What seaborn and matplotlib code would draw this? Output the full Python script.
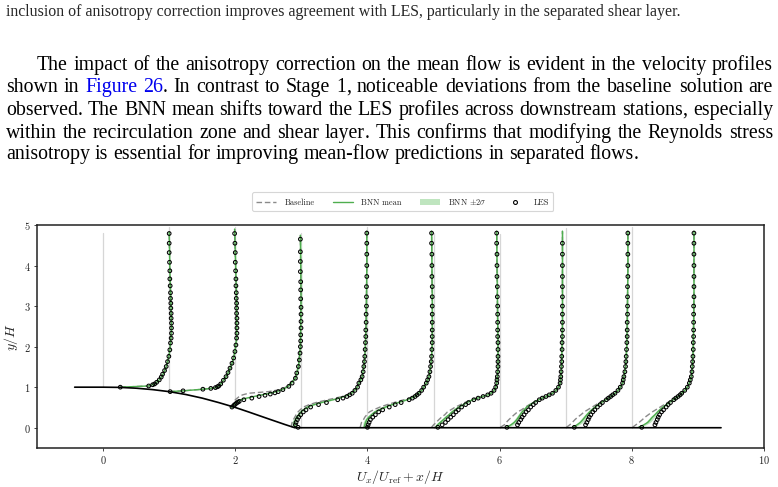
import pandas as pd
import matplotlib
matplotlib.use("Agg")
import matplotlib.pyplot as plt
from matplotlib.lines import Line2D
from matplotlib.patches import Patch
import seaborn as sns

# --- Seitentext (Ausschnitt aus dem Paper) ---------------------------------
CAPTION_LINE = ("inclusion of anisotropy correction improves agreement with LES, "
                "particularly in the separated shear layer.")
PARA_LINES = [
    "The impact of the anisotropy correction on the mean flow is evident in the velocity profiles",
    "shown in Figure 26. In contrast to Stage 1, noticeable deviations from the baseline solution are",
    "observed. The BNN mean shifts toward the LES profiles across downstream stations, especially",
    "within the recirculation zone and shear layer. This confirms that modifying the Reynolds stress",
    "anisotropy is essential for improving mean-flow predictions in separated flows.",
]
BLUE_WORDS = {"Figure", "26"}

# --- Geometrie --------------------------------------------------------------
STATIONS = [0, 1, 2, 3, 4, 5, 6, 7, 8]
WALL_Y = [1.0, 0.89, 0.5, 0.0, 0.0, 0.0, 0.0, 0.0, 0.0]
GRID_TOP = [4.80, 4.95, 4.95, 4.80, 4.95, 4.80, 4.77, 4.92, 4.95]
HILL_X = [-0.43, 0.0, 0.25, 0.5, 0.75, 1.0, 1.25, 1.5, 1.75, 2.0, 2.2, 2.5, 2.75, 2.9, 9.35]
HILL_Y = [1.0, 1.0, 0.995, 0.975, 0.94, 0.89, 0.82, 0.73, 0.62, 0.50, 0.39, 0.22, 0.08, 0.0, 0.0]

# --- LES (Marker) -------------------------------------------------------------
Y_LES_0 = [1.00, 1.03, 1.06, 1.08, 1.12, 1.18, 1.25, 1.32, 1.41, 1.51, 1.63, 1.76, 1.92, 2.09,
           2.21, 2.33, 2.46, 2.58, 2.70, 2.82, 2.95, 3.07, 3.19, 3.33, 3.50, 3.67, 3.87, 4.08,
           4.32, 4.55, 4.79]
LES_U_0 = [0.26, 0.69, 0.75, 0.78, 0.81, 0.85, 0.88, 0.90, 0.93, 0.955, 0.975, 0.995, 1.01, 1.02,
           1.03, 1.035, 1.035, 1.035, 1.03, 1.03, 1.025, 1.025, 1.02, 1.02, 1.015, 1.01, 1.01,
           1.005, 1.0, 1.0, 1.0]
Y_LES_1 = [0.89, 0.91, 0.95, 0.97, 0.99, 1.01, 1.03, 1.08, 1.17, 1.26, 1.36, 1.47, 1.59, 1.72,
           1.88, 2.04, 2.21, 2.33, 2.46, 2.58, 2.70, 2.82, 2.95, 3.07, 3.19, 3.33, 3.50, 3.67,
           3.87, 4.08, 4.32, 4.55, 4.79]
LES_U_1 = [0.015, 0.21, 0.51, 0.63, 0.70, 0.73, 0.75, 0.78, 0.82, 0.86, 0.89, 0.92, 0.95, 0.975,
           0.995, 1.01, 1.02, 1.025, 1.025, 1.025, 1.025, 1.02, 1.02, 1.02, 1.015, 1.015, 1.01,
           1.01, 1.005, 1.0, 1.0, 0.995, 0.99]
Y_LES_2 = [0.51, 0.55, 0.58, 0.61, 0.63, 0.65, 0.69, 0.73, 0.77, 0.80, 0.83, 0.86, 0.89, 0.94,
           1.02, 1.10, 1.22, 1.35, 1.51, 1.67, 1.84, 2.00, 2.14, 2.29, 2.46, 2.62, 2.80, 2.97,
           3.18, 3.40, 3.60, 3.85, 4.10, 4.34, 4.65]
LES_U_2 = [-0.05, -0.02, 0.0, 0.02, 0.04, 0.06, 0.13, 0.25, 0.36, 0.45, 0.53, 0.60, 0.65, 0.72,
           0.81, 0.86, 0.91, 0.93, 0.955, 0.97, 0.98, 0.985, 0.99, 0.99, 0.995, 0.995, 0.995,
           0.995, 0.99, 0.99, 0.99, 0.985, 0.985, 0.985, 0.985]
Y_FLAT = [0.01, 0.07, 0.13, 0.20, 0.26, 0.32, 0.39, 0.44, 0.51, 0.57, 0.62, 0.69, 0.73, 0.77,
          0.81, 0.85, 0.92, 1.00, 1.10, 1.18, 1.26, 1.38, 1.51, 1.63, 1.76, 1.93, 2.10, 2.25,
          2.41, 2.60, 2.80, 3.00, 3.23, 3.48, 3.73, 4.00, 4.28, 4.55, 4.80]
LES_U_3 = [-0.05, -0.09, -0.08, -0.06, -0.04, -0.01, 0.03, 0.07, 0.14, 0.26, 0.38, 0.55, 0.63,
           0.69, 0.73, 0.77, 0.81, 0.85, 0.87, 0.90, 0.92, 0.935, 0.945, 0.955, 0.96, 0.965,
           0.97, 0.975, 0.975, 0.98, 0.98, 0.985, 0.985, 0.985, 0.99, 0.99, 0.99, 0.99, 0.99]
LES_U_4 = [0.00, 0.01, 0.025, 0.045, 0.08, 0.12, 0.17, 0.23, 0.33, 0.42, 0.51, 0.63, 0.68, 0.72,
           0.75, 0.78, 0.82, 0.85, 0.89, 0.91, 0.93, 0.945, 0.955, 0.965, 0.97, 0.975, 0.98,
           0.98, 0.98, 0.98, 0.98, 0.98, 0.98, 0.98, 0.975, 0.975, 0.975, 0.97, 0.97]
LES_U_5 = [0.065, 0.13, 0.18, 0.22, 0.26, 0.30, 0.34, 0.375, 0.425, 0.485, 0.53, 0.61, 0.675,
           0.75, 0.82, 0.87, 0.915, 0.94, 0.955, 0.96, 0.965, 0.97, 0.975, 0.975, 0.975, 0.975,
           0.975, 0.97, 0.97, 0.97, 0.97, 0.97, 0.965, 0.965, 0.96, 0.96, 0.96, 0.955, 0.955]
LES_U_6 = [0.11, 0.27, 0.29, 0.32, 0.34, 0.37, 0.40, 0.435, 0.47, 0.51, 0.545, 0.60, 0.645, 0.70,
           0.75, 0.80, 0.85, 0.89, 0.915, 0.92, 0.925, 0.93, 0.935, 0.94, 0.94, 0.945, 0.945,
           0.95, 0.95, 0.95, 0.95, 0.95, 0.95, 0.95, 0.95, 0.95, 0.95, 0.95]
LES_U_7 = [0.13, 0.30, 0.32, 0.34, 0.355, 0.38, 0.41, 0.44, 0.48, 0.52, 0.555, 0.615, 0.645, 0.68,
           0.71, 0.745, 0.79, 0.825, 0.86, 0.87, 0.88, 0.895, 0.905, 0.91, 0.915, 0.92, 0.925,
           0.93, 0.93, 0.93, 0.935, 0.935, 0.935, 0.935, 0.94, 0.94, 0.94, 0.94, 0.94]
LES_U_8 = [0.15, 0.35, 0.365, 0.385, 0.40, 0.42, 0.45, 0.48, 0.52, 0.55, 0.585, 0.635, 0.665,
           0.70, 0.73, 0.755, 0.80, 0.84, 0.87, 0.885, 0.90, 0.91, 0.915, 0.92, 0.925, 0.93,
           0.93, 0.935, 0.935, 0.935, 0.935, 0.935, 0.94, 0.94, 0.94, 0.94, 0.94, 0.94, 0.94]

# --- RANS Baseline und BNN-Mittelwert (Linien) -----------------------------------
LINE_Y_0 = [1.00, 1.03, 1.08, 1.12, 1.18, 1.25, 1.32, 1.41, 1.51, 1.63, 1.76, 1.92, 2.09, 2.46,
            3.07, 3.87, 4.83]
BASE_U_0 = [0.26, 0.69, 0.78, 0.81, 0.85, 0.88, 0.90, 0.93, 0.955, 0.975, 0.995, 1.01, 1.02,
            1.035, 1.025, 1.01, 1.0]
BNN_U_0 = [0.26, 0.69, 0.78, 0.81, 0.85, 0.88, 0.905, 0.93, 0.955, 0.975, 0.995, 1.01, 1.02,
           1.035, 1.025, 1.01, 1.0]
LINE_Y_1 = [0.89, 0.91, 0.95, 0.97, 0.99, 1.03, 1.08, 1.17, 1.26, 1.36, 1.47, 1.59, 1.72, 1.88,
            2.21, 3.07, 4.90]
BASE_U_1 = [0.0, 0.21, 0.51, 0.63, 0.70, 0.75, 0.78, 0.82, 0.86, 0.89, 0.92, 0.95, 0.975, 0.995,
            1.02, 1.02, 0.99]
BNN_U_1 = [0.0, 0.21, 0.51, 0.63, 0.70, 0.75, 0.78, 0.82, 0.86, 0.89, 0.92, 0.95, 0.975, 0.995,
           1.02, 1.02, 0.99]
LINE_Y_2 = [0.50, 0.55, 0.60, 0.65, 0.69, 0.73, 0.77, 0.81, 0.85, 0.87, 0.89, 0.94, 1.02, 1.22,
            1.51, 2.00, 3.18, 4.75]
BASE_U_2 = [-0.07, -0.05, -0.03, -0.01, 0.0, 0.03, 0.06, 0.11, 0.20, 0.35, 0.50, 0.68, 0.79,
            0.90, 0.955, 0.985, 0.995, 0.985]
BNN_U_2 = [-0.06, -0.03, 0.0, 0.03, 0.08, 0.17, 0.28, 0.40, 0.52, 0.57, 0.62, 0.71, 0.80, 0.91,
           0.955, 0.985, 0.995, 0.985]
LINE_Y_FLAT = [0.01, 0.07, 0.13, 0.20, 0.26, 0.32, 0.39, 0.44, 0.51, 0.57, 0.62, 0.69, 0.73,
               0.77, 0.81, 0.85, 0.92, 1.00, 1.10, 1.26, 1.51, 1.76, 2.10, 2.60, 3.23, 4.00, 4.85]
BASE_U_3 = [-0.14, -0.15, -0.14, -0.12, -0.10, -0.08, -0.05, -0.02, 0.03, 0.12, 0.22, 0.40, 0.51,
            0.62, 0.70, 0.75, 0.80, 0.84, 0.87, 0.92, 0.945, 0.96, 0.97, 0.98, 0.985, 0.99, 0.99]
BNN_U_3 = [-0.08, -0.11, -0.11, -0.09, -0.07, -0.04, -0.01, 0.03, 0.09, 0.19, 0.30, 0.48, 0.57,
           0.65, 0.71, 0.76, 0.805, 0.845, 0.87, 0.92, 0.945, 0.96, 0.97, 0.98, 0.985, 0.99, 0.99]
BASE_U_4 = [-0.11, -0.10, -0.09, -0.06, -0.04, -0.01, 0.03, 0.09, 0.19, 0.30, 0.40, 0.55, 0.63,
            0.69, 0.73, 0.77, 0.815, 0.85, 0.89, 0.93, 0.955, 0.97, 0.98, 0.98, 0.98, 0.975, 0.97]
BNN_U_4 = [-0.05, -0.04, -0.03, -0.01, 0.02, 0.06, 0.11, 0.17, 0.27, 0.37, 0.46, 0.60, 0.66,
           0.71, 0.745, 0.775, 0.82, 0.85, 0.89, 0.93, 0.955, 0.97, 0.98, 0.98, 0.98, 0.975, 0.97]
BASE_U_5 = [-0.03, 0.0, 0.04, 0.08, 0.12, 0.17, 0.21, 0.26, 0.33, 0.41, 0.47, 0.57, 0.65, 0.74,
            0.815, 0.865, 0.915, 0.94, 0.955, 0.965, 0.975, 0.975, 0.975, 0.97, 0.965, 0.96, 0.955]
BNN_U_5 = [0.03, 0.06, 0.10, 0.15, 0.19, 0.235, 0.28, 0.32, 0.38, 0.45, 0.50, 0.59, 0.665, 0.745,
           0.82, 0.87, 0.915, 0.94, 0.955, 0.965, 0.975, 0.975, 0.975, 0.97, 0.965, 0.96, 0.955]
BASE_U_6 = [0.01, 0.07, 0.10, 0.14, 0.18, 0.22, 0.27, 0.33, 0.39, 0.45, 0.51, 0.59, 0.645, 0.70,
            0.75, 0.80, 0.85, 0.89, 0.915, 0.925, 0.935, 0.94, 0.945, 0.95, 0.95, 0.95, 0.95]
BNN_U_6 = [0.10, 0.17, 0.22, 0.26, 0.285, 0.31, 0.34, 0.37, 0.41, 0.46, 0.51, 0.59, 0.645, 0.70,
           0.75, 0.80, 0.85, 0.89, 0.915, 0.925, 0.935, 0.94, 0.945, 0.95, 0.95, 0.95, 0.95]
BASE_U_7 = [0.01, 0.06, 0.10, 0.14, 0.18, 0.23, 0.28, 0.33, 0.40, 0.46, 0.51, 0.59, 0.64, 0.68,
            0.71, 0.745, 0.79, 0.825, 0.86, 0.88, 0.905, 0.915, 0.925, 0.93, 0.935, 0.94, 0.94]
BNN_U_7 = [0.10, 0.17, 0.22, 0.26, 0.29, 0.32, 0.36, 0.39, 0.44, 0.49, 0.535, 0.605, 0.645, 0.68,
           0.71, 0.745, 0.79, 0.825, 0.86, 0.88, 0.905, 0.915, 0.925, 0.93, 0.935, 0.94, 0.94]
BASE_U_8 = [0.01, 0.06, 0.11, 0.16, 0.20, 0.25, 0.31, 0.36, 0.43, 0.49, 0.54, 0.61, 0.65, 0.69,
            0.725, 0.755, 0.80, 0.84, 0.87, 0.90, 0.915, 0.925, 0.93, 0.935, 0.94, 0.94, 0.94]
BNN_U_8 = [0.10, 0.18, 0.24, 0.28, 0.31, 0.35, 0.39, 0.42, 0.47, 0.52, 0.56, 0.625, 0.66, 0.70,
           0.73, 0.755, 0.80, 0.84, 0.87, 0.90, 0.915, 0.925, 0.93, 0.935, 0.94, 0.94, 0.94]

# Standardabweichung der BNN-Vorhersage
SIGMA_HILL = [0.004, 0.005, 0.008]
SIGMA_FLAT = [0.012, 0.016, 0.018, 0.018, 0.018, 0.017, 0.016, 0.015, 0.014, 0.012, 0.011, 0.009,
              0.008, 0.007, 0.006, 0.006, 0.005, 0.005, 0.005, 0.005, 0.005, 0.005, 0.005, 0.005,
              0.005, 0.005, 0.005]

W_PX, H_PX = 778, 487
SERIF = "Liberation Serif"
LINK_BLUE = "#0000ee"
GREEN = "#4fae4f"
BAND = "#bfe5bf"
GREY_DASH = "#8a8a8a"


def build_frames():
    les_sets = [(Y_LES_0, LES_U_0), (Y_LES_1, LES_U_1), (Y_LES_2, LES_U_2),
                (Y_FLAT, LES_U_3), (Y_FLAT, LES_U_4), (Y_FLAT, LES_U_5),
                (Y_FLAT, LES_U_6), (Y_FLAT, LES_U_7), (Y_FLAT, LES_U_8)]
    line_sets = [(LINE_Y_0, BASE_U_0, BNN_U_0, [SIGMA_HILL[0]] * len(LINE_Y_0)),
                 (LINE_Y_1, BASE_U_1, BNN_U_1, [SIGMA_HILL[1]] * len(LINE_Y_1)),
                 (LINE_Y_2, BASE_U_2, BNN_U_2, [SIGMA_HILL[2]] * len(LINE_Y_2)),
                 (LINE_Y_FLAT, BASE_U_3, BNN_U_3, SIGMA_FLAT),
                 (LINE_Y_FLAT, BASE_U_4, BNN_U_4, SIGMA_FLAT),
                 (LINE_Y_FLAT, BASE_U_5, BNN_U_5, SIGMA_FLAT),
                 (LINE_Y_FLAT, BASE_U_6, BNN_U_6, SIGMA_FLAT),
                 (LINE_Y_FLAT, BASE_U_7, BNN_U_7, SIGMA_FLAT),
                 (LINE_Y_FLAT, BASE_U_8, BNN_U_8, SIGMA_FLAT)]
    les_rows, line_rows = [], []
    for s, (ys, us) in zip(STATIONS, les_sets):
        for y, u in zip(ys, us):
            les_rows.append({"station": s, "y": y, "x": u + s})
    for s, (ys, base, bnn, sig) in zip(STATIONS, line_sets):
        for y, ub, un, sd in zip(ys, base, bnn, sig):
            line_rows.append({"station": s, "y": y, "x_base": ub + s, "x_bnn": un + s,
                              "lo": un - 2 * sd + s, "hi": un + 2 * sd + s})
    return pd.DataFrame(les_rows), pd.DataFrame(line_rows)


def text_width(fig, renderer, s, size):
    t = fig.text(0, 0, s, fontsize=size, family=SERIF)
    w = t.get_window_extent(renderer).width
    t.remove()
    return w


def draw_line(fig, renderer, line, x0, x1, y_px, size, justify):
    words = []
    for word in line.split(" "):
        core = word.rstrip(".,")
        tail = word[len(core):]
        segs = [(core, LINK_BLUE if core in BLUE_WORDS else "black")]
        if tail:
            segs.append((tail, "black"))
        words.append([(txt, col, text_width(fig, renderer, txt, size)) for txt, col in segs])
    total = sum(w for segs in words for _, _, w in segs)
    if justify:
        gap = (x1 - x0 - total) / (len(words) - 1)
    else:
        gap = text_width(fig, renderer, "a a", size) - text_width(fig, renderer, "aa", size)
    x = x0
    for segs in words:
        for txt, col, w in segs:
            fig.text(x / W_PX, 1 - y_px / H_PX, txt, fontsize=size, family=SERIF,
                     color=col, va="baseline", ha="left")
            x += w
        x += gap


def main():
    sns.set_theme(style="ticks")
    plt.rcParams["font.family"] = ["cmr10"]
    plt.rcParams["mathtext.fontset"] = "cm"
    plt.rcParams["axes.unicode_minus"] = False
    plt.rcParams["axes.formatter.use_mathtext"] = True

    les_df, line_df = build_frames()

    fig = plt.figure(figsize=(W_PX / 100, H_PX / 100), dpi=100)
    fig.patch.set_facecolor("white")
    renderer = fig.canvas.get_renderer()

    # --- Text oberhalb der Abbildung ---
    cap_size = 10 * 674 / text_width(fig, renderer, CAPTION_LINE, 10)
    fig.text(6 / W_PX, 1 - 16.5 / H_PX, CAPTION_LINE, fontsize=cap_size, family=SERIF,
             va="baseline", ha="left")
    para_size = 10 * 632 / text_width(fig, renderer, PARA_LINES[-1], 10)
    baselines = [70, 92, 115, 138, 159]
    for i, (line, yb) in enumerate(zip(PARA_LINES, baselines)):
        x0 = 37 if i == 0 else 6
        draw_line(fig, renderer, line, x0, 773, yb, para_size, justify=i < len(PARA_LINES) - 1)

    # --- Profile ---
    ax = fig.add_axes([37 / W_PX, 1 - 448 / H_PX, 727 / W_PX, 223 / H_PX])
    for s, w, top in zip(STATIONS, WALL_Y, GRID_TOP):
        ax.plot([s, s], [w, top], color="#d6d6d6", lw=0.9, zorder=1)

    for s in STATIONS:
        sub = line_df[line_df["station"] == s]
        ax.fill_betweenx(sub["y"], sub["lo"], sub["hi"], color=BAND, lw=0, zorder=2)

    sns.lineplot(data=line_df, x="x_base", y="y", units="station", estimator=None, sort=False,
                 color=GREY_DASH, lw=1.0, linestyle=(0, (4, 2)), ax=ax, zorder=3)
    sns.lineplot(data=line_df, x="x_bnn", y="y", units="station", estimator=None, sort=False,
                 color=GREEN, lw=1.0, ax=ax, zorder=4)
    sns.lineplot(x=HILL_X, y=HILL_Y, sort=False, estimator=None, color="black", lw=1.2,
                 ax=ax, zorder=5)
    sns.scatterplot(data=les_df, x="x", y="y", marker="o", s=7, color="black",
                    linewidth=0.75, ax=ax, zorder=6)
    pts = ax.collections[-1]
    pts.set_facecolor("none")
    pts.set_edgecolor("black")

    ax.set_xlim(-1, 10)
    ax.set_ylim(-0.5, 5)
    ax.set_xticks([0, 2, 4, 6, 8, 10])
    ax.set_yticks([0, 1, 2, 3, 4, 5])
    ax.tick_params(labelsize=7.5, length=2.5, width=0.6, pad=2)
    ax.set_xlabel(r"$U_x/U_{\mathrm{ref}} + x/H$", fontsize=10, labelpad=1)
    ax.set_ylabel(r"$y/H$", fontsize=10, labelpad=3)
    for sp in ax.spines.values():
        sp.set_color("#222222")
        sp.set_linewidth(1.1)

    handles = [
        Line2D([], [], color=GREY_DASH, lw=1.0, linestyle=(0, (4, 2))),
        Line2D([], [], color=GREEN, lw=1.0),
        Patch(facecolor=BAND, edgecolor="none"),
        Line2D([], [], color="black", marker="o", markersize=2.8, markerfacecolor="none",
               markeredgewidth=0.8, linestyle="none"),
    ]
    labels = ["Baseline", "BNN mean", r"BNN $\pm 2\sigma$", "LES"]
    leg = ax.legend(handles, labels, loc="lower center", bbox_to_anchor=(0.503, 1.045),
                    ncol=4, fontsize=6, frameon=True, fancybox=True, handlelength=2.4,
                    handletextpad=1.0, columnspacing=2.2, borderpad=0.5)
    leg.get_frame().set_edgecolor("#cccccc")
    leg.get_frame().set_linewidth(0.8)

    fig.savefig("out.png", dpi=100)
    plt.close(fig)


if __name__ == "__main__":
    main()
